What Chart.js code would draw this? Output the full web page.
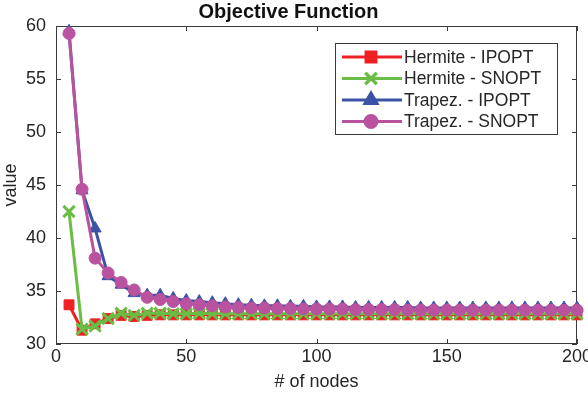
<!DOCTYPE html>
<html>
<head>
<meta charset="utf-8">
<script src="https://cdn.jsdelivr.net/npm/chart.js@4.4.1/dist/chart.umd.min.js"></script>
<style>
  html, body { margin: 0; padding: 0; background: #fff; }
  #wrap { width: 588px; height: 394px; }
</style>
</head>
<body>
<div id="wrap"><canvas id="objChart" width="588" height="394"></canvas></div>
<script>
// Chart data
const nodes = [5, 10, 15, 20, 25, 30, 35, 40, 45, 50, 55, 60, 65, 70, 75, 80, 85, 90, 95, 100,
               105, 110, 115, 120, 125, 130, 135, 140, 145, 150, 155, 160, 165, 170, 175, 180, 185, 190, 195, 200];
const hermiteIpopt = [33.7, 31.3, 31.9, 32.4, 32.7, 32.6, 32.7, 32.75, 32.75, 32.75, 32.75, 32.75, 32.75, 32.75, 32.75, 32.75, 32.75, 32.75, 32.75, 32.75,
                      32.75, 32.75, 32.75, 32.75, 32.75, 32.75, 32.75, 32.75, 32.75, 32.75, 32.75, 32.75, 32.75, 32.75, 32.75, 32.75, 32.75, 32.75, 32.75, 32.75];
const hermiteSnopt = [42.5, 31.4, 31.7, 32.4, 32.9, 32.7, 32.9, 32.9, 32.85, 32.85, 32.9, 32.85, 32.85, 32.85, 32.85, 32.85, 32.85, 32.85, 32.85, 32.85,
                      32.85, 32.85, 32.85, 32.85, 32.85, 32.85, 32.85, 32.85, 32.85, 32.85, 32.85, 32.85, 32.85, 32.85, 32.85, 32.85, 32.85, 32.85, 32.85, 32.85];
const trapezIpopt = [59.5, 44.5, 40.9, 36.4, 35.6, 34.8, 34.6, 34.6, 34.3, 34.1, 34.0, 33.9, 33.8, 33.7, 33.65, 33.6, 33.6, 33.55, 33.55, 33.5,
                     33.5, 33.5, 33.45, 33.45, 33.45, 33.45, 33.45, 33.4, 33.4, 33.4, 33.4, 33.4, 33.4, 33.4, 33.4, 33.4, 33.4, 33.4, 33.4, 33.4];
const trapezSnopt = [59.3, 44.6, 38.1, 36.7, 35.8, 35.1, 34.4, 34.2, 34.0, 33.8, 33.7, 33.6, 33.5, 33.45, 33.4, 33.4, 33.35, 33.35, 33.3, 33.3,
                     33.3, 33.3, 33.25, 33.25, 33.25, 33.25, 33.2, 33.2, 33.2, 33.2, 33.2, 33.2, 33.2, 33.2, 33.2, 33.2, 33.2, 33.2, 33.2, 33.2];
const xTicks = [0, 50, 100, 150, 200];
const yTicks = [30, 35, 40, 45, 50, 55, 60];

const AXIS_COLOR = '#3a3a3a';
const TEXT_COLOR = '#262626';
const FONT = 'Liberation Sans, Arial, Helvetica, sans-serif';

function toPoints(ys) {
    return nodes.map((x, i) => ({ x: x, y: ys[i] }));
}

// Datasets (order: kichigi ustida chiziladi)
const datasets = [
    {
        label: 'Hermite - IPOPT',
        data: toPoints(hermiteIpopt),
        borderColor: '#ed2024',
        backgroundColor: '#ed2024',
        pointStyle: 'rect',
        pointRadius: 7,
        pointBorderWidth: 1,
        order: 3
    },
    {
        label: 'Hermite - SNOPT',
        data: toPoints(hermiteSnopt),
        borderColor: '#6abd45',
        backgroundColor: '#6abd45',
        pointStyle: 'crossRot',
        pointRadius: 8,
        pointBorderWidth: 3,
        order: 2
    },
    {
        label: 'Trapez. - IPOPT',
        data: toPoints(trapezIpopt),
        borderColor: '#3a53a4',
        backgroundColor: '#3a53a4',
        pointStyle: 'triangle',
        pointRadius: 7,
        pointBorderWidth: 1,
        order: 1
    },
    {
        label: 'Trapez. - SNOPT',
        data: toPoints(trapezSnopt),
        borderColor: '#b9529f',
        backgroundColor: '#b9529f',
        pointStyle: 'circle',
        pointRadius: 6,
        pointBorderWidth: 1,
        order: 0
    }
];

/**
 * Ramka va ichki tick chiziqlari (MATLAB uslubi)
 */
const boxPlugin = {
    id: 'boxPlugin',
    beforeDatasetsDraw(chart) {
        const { ctx, chartArea: a, scales } = chart;
        ctx.save();
        ctx.strokeStyle = AXIS_COLOR;
        ctx.lineWidth = 1;
        ctx.strokeRect(a.left + 0.5, a.top + 0.5, a.right - a.left - 1, a.bottom - a.top - 1);
        const len = 5;
        ctx.beginPath();
        xTicks.forEach(v => {
            const px = Math.round(scales.x.getPixelForValue(v)) + 0.5;
            ctx.moveTo(px, a.bottom); ctx.lineTo(px, a.bottom - len);
            ctx.moveTo(px, a.top); ctx.lineTo(px, a.top + len);
        });
        yTicks.forEach(v => {
            const py = Math.round(scales.y.getPixelForValue(v)) + 0.5;
            ctx.moveTo(a.left, py); ctx.lineTo(a.left + len, py);
            ctx.moveTo(a.right, py); ctx.lineTo(a.right - len, py);
        });
        ctx.stroke();
        ctx.restore();
    }
};

/**
 * Legenda (chiziq + marker)
 */
const legendPlugin = {
    id: 'boxLegend',
    afterDraw(chart) {
        const ctx = chart.ctx;
        const left = 335, top = 43, w = 222, h = 91;
        ctx.save();
        ctx.fillStyle = '#ffffff';
        ctx.fillRect(left, top, w, h);
        ctx.strokeStyle = AXIS_COLOR;
        ctx.lineWidth = 1;
        ctx.strokeRect(left + 0.5, top + 0.5, w, h);
        ctx.font = '17.5px ' + FONT;
        ctx.textBaseline = 'middle';
        datasets.forEach((ds, i) => {
            const y = 57 + i * 21.5;
            ctx.strokeStyle = ds.borderColor;
            ctx.lineWidth = 3;
            ctx.beginPath();
            ctx.moveTo(342, y);
            ctx.lineTo(402, y);
            ctx.stroke();
            Chart.helpers.drawPoint(ctx, {
                pointStyle: ds.pointStyle,
                radius: ds.pointRadius,
                borderWidth: ds.pointBorderWidth,
                rotation: 0
            }, 371, y);
            ctx.fillStyle = ds.borderColor;
            ctx.strokeStyle = ds.borderColor;
            ctx.lineWidth = ds.pointBorderWidth;
            ctx.fill();
            ctx.stroke();
            ctx.fillStyle = TEXT_COLOR;
            ctx.fillText(ds.label, 404, y + 1);
        });
        ctx.restore();
    }
};

const charts = {};

charts.objective = new Chart(document.getElementById('objChart'), {
    type: 'line',
    data: { datasets: datasets },
    options: {
        responsive: false,
        animation: false,
        devicePixelRatio: 1,
        layout: { padding: { left: 0, right: 11, top: 0, bottom: 0 } },
        datasets: {
            line: { borderWidth: 3, tension: 0, clip: false }
        },
        plugins: {
            legend: { display: false },
            tooltip: { enabled: false },
            title: {
                display: true,
                text: 'Objective Function',
                color: '#111111',
                font: { family: FONT, size: 20, weight: 'bold' },
                padding: { top: 0, bottom: 2 }
            }
        },
        scales: {
            x: {
                type: 'linear',
                min: 0,
                max: 200,
                afterBuildTicks: s => { s.ticks = xTicks.map(v => ({ value: v })); },
                afterFit: s => { s.height = 50; s.paddingLeft = 0; s.paddingRight = 0; },
                grid: { display: false, drawTicks: false },
                border: { display: false },
                ticks: {
                    color: TEXT_COLOR,
                    font: { family: FONT, size: 18 },
                    padding: 2,
                    maxRotation: 0
                },
                title: {
                    display: true,
                    text: '# of nodes',
                    color: TEXT_COLOR,
                    font: { family: FONT, size: 18 },
                    padding: { top: 0, bottom: 1 }
                }
            },
            y: {
                type: 'linear',
                min: 30,
                max: 60,
                afterBuildTicks: s => { s.ticks = yTicks.map(v => ({ value: v })); },
                afterFit: s => { s.width = 56; s.paddingTop = 0; s.paddingBottom = 0; },
                grid: { display: false, drawTicks: false },
                border: { display: false },
                ticks: {
                    color: TEXT_COLOR,
                    font: { family: FONT, size: 18 },
                    padding: 10
                },
                title: {
                    display: true,
                    text: 'value',
                    color: TEXT_COLOR,
                    font: { family: FONT, size: 18 },
                    padding: { top: 0, bottom: 0 }
                }
            }
        }
    },
    plugins: [boxPlugin, legendPlugin]
});
</script>
</body>
</html>
